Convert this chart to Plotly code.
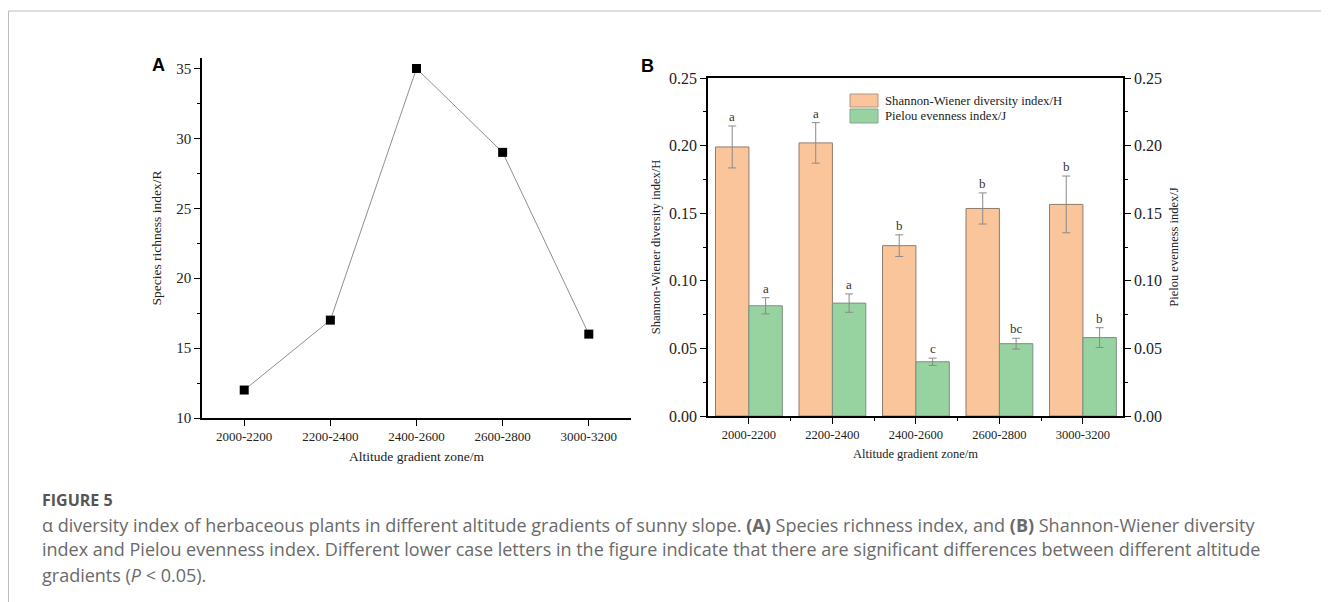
import plotly.graph_objects as go

# ---------------- data ----------------
categories = ["2000-2200", "2200-2400", "2400-2600", "2600-2800", "3000-3200"]
richness_R = [12, 17, 35, 29, 16]

shannon_H = [0.199, 0.202, 0.126, 0.1535, 0.1565]
shannon_err = [0.0155, 0.015, 0.008, 0.0115, 0.0210]
shannon_letters = ["a", "a", "b", "b", "b"]

pielou_J = [0.0815, 0.0835, 0.0401, 0.0535, 0.0580]
pielou_err = [0.0060, 0.0068, 0.0027, 0.0040, 0.0073]
pielou_letters = ["a", "a", "c", "bc", "b"]

yticks_A = [10, 15, 20, 25, 30, 35]
yticks_B = [0.00, 0.05, 0.10, 0.15, 0.20, 0.25]

W, H = 1329, 602
OFF = 8  # page body margin offset
idx = list(range(len(categories)))

def px(x):
    return (x - OFF) / W

def py(y):
    return 1 - (y - OFF) / H

SERIF = "Liberation Serif"
ORANGE = "#FAC59A"
GREEN = "#96D3A0"

fig = go.Figure()

# ---------------- panel A ----------------
fig.add_trace(go.Scatter(
    x=idx, y=richness_R, mode="lines+markers",
    line=dict(color="#8f8f8f", width=1),
    marker=dict(symbol="square", size=9, color="black"),
    xaxis="x", yaxis="y", showlegend=False,
))

# ---------------- panel B ----------------
fig.add_trace(go.Bar(
    x=idx, y=shannon_H, width=0.4, offset=-0.4,
    marker=dict(color=ORANGE, line=dict(color="#8e7d6c", width=1)),
    error_y=dict(type="data", array=shannon_err, color="#8a8a8a", thickness=1, width=4),
    xaxis="x2", yaxis="y2", name="Shannon-Wiener diversity index/H", showlegend=False,
))
fig.add_trace(go.Bar(
    x=idx, y=pielou_J, width=0.4, offset=0,
    marker=dict(color=GREEN, line=dict(color="#7c8f80", width=1)),
    error_y=dict(type="data", array=pielou_err, color="#8a8a8a", thickness=1, width=4),
    xaxis="x2", yaxis="y3", name="Pielou evenness index/J", showlegend=False,
))

annotations = []
for i in idx:
    annotations.append(dict(x=i - 0.2, y=shannon_H[i] + shannon_err[i], xref="x2", yref="y2",
                            text=shannon_letters[i], showarrow=False, yanchor="bottom", yshift=0,
                            font=dict(family=SERIF, size=13, color="#333")))
    annotations.append(dict(x=i + 0.2, y=pielou_J[i] + pielou_err[i], xref="x2", yref="y3",
                            text=pielou_letters[i], showarrow=False, yanchor="bottom", yshift=0,
                            font=dict(family=SERIF, size=13, color="#333")))

# legend (manual)
shapes = []
leg = [(ORANGE, "#b09580", "Shannon-Wiener diversity index/H", 94, 107),
       (GREEN, "#86a88c", "Pielou evenness index/J", 109, 123)]
for fill, edge, label, y0, y1 in leg:
    shapes.append(dict(type="rect", xref="paper", yref="paper",
                       x0=px(850), x1=px(878), y0=py(y1), y1=py(y0),
                       fillcolor=fill, line=dict(color=edge, width=1)))
    annotations.append(dict(x=px(883), y=py((y0 + y1) / 2), xref="paper", yref="paper",
                            text=label, showarrow=False, xanchor="left", yanchor="middle",
                            font=dict(family=SERIF, size=12.7, color="#222")))

# page border
shapes.append(dict(type="line", xref="paper", yref="paper", x0=0.5 / W, x1=1, y0=py(11), y1=py(11),
                   line=dict(color="#bdbdbd", width=1)))
shapes.append(dict(type="line", xref="paper", yref="paper", x0=0.5 / W, x1=0.5 / W, y0=py(11), y1=0,
                   line=dict(color="#bdbdbd", width=1)))

# panel labels
annotations.append(dict(x=px(150), y=py(53), xref="paper", yref="paper", text="<b>A</b>",
                        showarrow=False, font=dict(family="Liberation Sans", size=18, color="black")))
annotations.append(dict(x=px(647), y=py(54), xref="paper", yref="paper", text="<b>B</b>",
                        showarrow=False, font=dict(family="Liberation Sans", size=18, color="black")))

# caption
CAP = "Open Sans"
annotations.append(dict(x=px(40), y=py(500), xref="paper", yref="paper", text="<b>FIGURE 5</b>",
                        showarrow=False, xanchor="left", yanchor="middle",
                        font=dict(family=CAP, size=16, color="#555")))
cap_lines = [
    "α diversity index of herbaceous plants in different altitude gradients of sunny slope. <b>(A)</b> Species richness index, and <b>(B)</b> Shannon-Wiener diversity",
    "index and Pielou evenness index. Different lower case letters in the figure indicate that there are significant differences between different altitude",
    "gradients (<i>P</i> &lt; 0.05).",
]
for line, yy in zip(cap_lines, [525, 549, 575]):
    annotations.append(dict(x=px(40), y=py(yy), xref="paper", yref="paper", text=line,
                            showarrow=False, xanchor="left", yanchor="middle",
                            font=dict(family=CAP, size=18, color="#6a6a6a")))

axis_common = dict(showline=True, linecolor="black", linewidth=1.5, showgrid=False, zeroline=False,
                   ticks="outside", tickcolor="black", tickwidth=1.2, automargin=False)

fig.update_layout(
    width=W, height=H, margin=dict(l=0, r=0, t=0, b=0, pad=0, autoexpand=False),
    paper_bgcolor="white", plot_bgcolor="rgba(0,0,0,0)",
    font=dict(family=SERIF, color="#222"),
    showlegend=False,
    xaxis=dict(**axis_common, domain=[px(202), px(631)], range=[-0.49, 4.49], anchor="y",
               tickmode="array", tickvals=idx, ticktext=categories, ticklen=6,
               tickfont=dict(family=SERIF, size=13),
               title=dict(text="Altitude gradient zone/m", font=dict(family=SERIF, size=13.5), standoff=8)),
    yaxis=dict(**axis_common, domain=[py(418), py(58)], range=[10, 35.75], anchor="x",
               tickmode="array", tickvals=yticks_A, ticklen=6,
               minor=dict(dtick=2.5, tick0=10, ticklen=3, ticks="outside", tickcolor="black"),
               tickfont=dict(family=SERIF, size=15),
               title=dict(text="Species richness index/R", font=dict(family=SERIF, size=13.5), standoff=12)),
    xaxis2=dict(**axis_common, domain=[px(708), px(1123)], range=[-0.49, 4.48], anchor="y2",
                mirror=True, tickmode="array", tickvals=idx, ticktext=categories, ticklen=6,
                minor=dict(tickmode="array", tickvals=[0.5, 1.5, 2.5, 3.5], ticklen=3,
                           ticks="outside", tickcolor="black"),
                tickfont=dict(family=SERIF, size=12.5),
                title=dict(text="Altitude gradient zone/m", font=dict(family=SERIF, size=12.5), standoff=8)),
    yaxis2=dict(**axis_common, domain=[py(416), py(78)], range=[0, 0.25], anchor="x2",
                tickmode="array", tickvals=yticks_B, tickformat=".2f", ticklen=6,
                minor=dict(dtick=0.025, tick0=0, ticklen=3, ticks="outside", tickcolor="black"),
                tickfont=dict(family=SERIF, size=16),
                title=dict(text="Shannon-Wiener diversity index/H", font=dict(family=SERIF, size=12.5), standoff=6)),
    yaxis3=dict(**axis_common, overlaying="y2", side="right", range=[0, 0.25], anchor="x2",
                tickmode="array", tickvals=yticks_B, tickformat=".2f", ticklen=6,
                minor=dict(dtick=0.025, tick0=0, ticklen=3, ticks="outside", tickcolor="black"),
                tickfont=dict(family=SERIF, size=16),
                title=dict(text="Pielou evenness index/J", font=dict(family=SERIF, size=12.5), standoff=8)),
    annotations=annotations,
    shapes=shapes,
)

fig.write_html("out.html")
